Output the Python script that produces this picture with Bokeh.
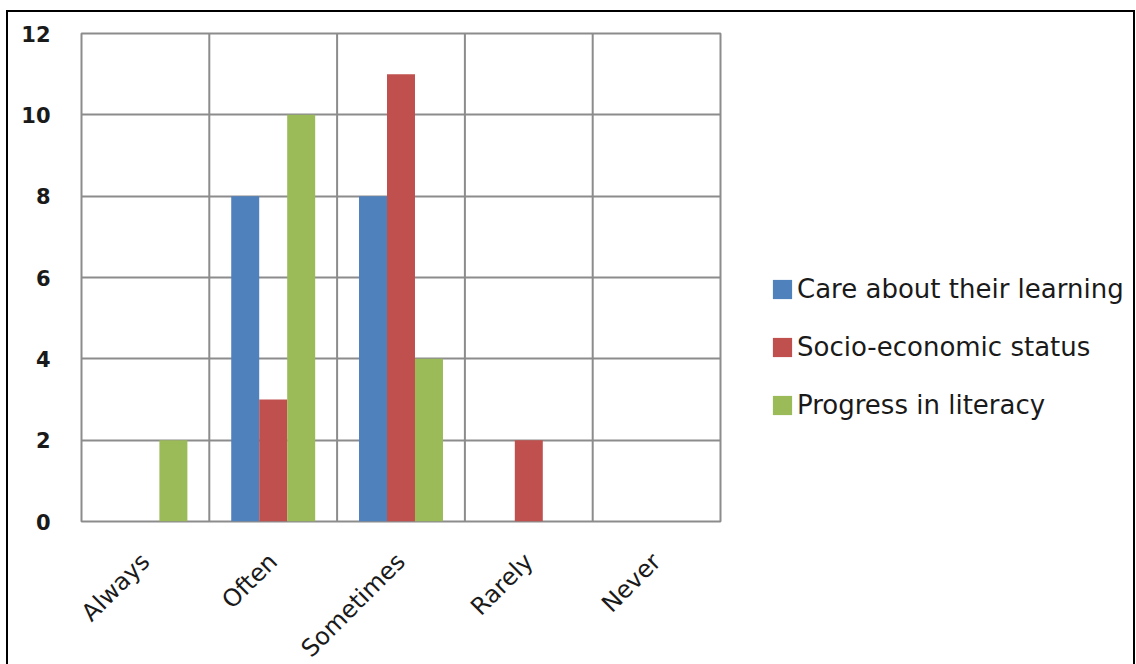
import math
from bokeh.plotting import figure
from bokeh.layouts import row
from bokeh.models import (ColumnDataSource, FactorRange, Range1d, FixedTicker, Span,
                          Legend, LegendItem)
from bokeh.transform import dodge
from bokeh.embed import file_html
from bokeh.resources import INLINE

categories = ["Always", "Often", "Sometimes", "Rarely", "Never"]
care = [0, 8, 8, 0, 0]
socio = [0, 3, 11, 2, 0]
progress = [2, 10, 4, 0, 0]
series_names = ["Care about their learning", "Socio-economic status", "Progress in literacy"]
series_fields = ["care", "socio", "progress"]
y_ticks = [0, 2, 4, 6, 8, 10, 12]

colors = ["#4F81BD", "#C0504D", "#9BBB59"]
grid_col = "#8c8c8c"
text_col = "#1a1a1a"

src = ColumnDataSource(dict(cat=categories, care=care, socio=socio, progress=progress))

p = figure(frame_width=639, frame_height=488, x_range=FactorRange(*categories),
           y_range=Range1d(0, 12), output_backend="svg", toolbar_location=None,
           min_border_left=73, min_border_top=21, min_border_right=2, min_border_bottom=145)
p.background_fill_color = "white"
p.border_fill_color = "white"
p.outline_line_color = grid_col
p.outline_line_width = 2

bw = 0.219
offsets = [-bw, 0, bw]
for f, c, off in zip(series_fields, colors, offsets):
    p.vbar(x=dodge("cat", off, range=p.x_range), top=f, width=bw, source=src,
           fill_color=c, line_color=None)

# grids
p.xgrid.visible = False
p.ygrid.ticker = FixedTicker(ticks=y_ticks)
p.ygrid.grid_line_color = grid_col
p.ygrid.grid_line_width = 2
for i in range(1, len(categories)):
    p.add_layout(Span(location=i, dimension="height", line_color=grid_col, line_width=2))

# axes
p.yaxis.ticker = FixedTicker(ticks=y_ticks)
for ax in (p.xaxis[0], p.yaxis[0]):
    ax.axis_line_color = None
    ax.major_tick_line_color = None
    ax.minor_tick_line_color = None
    ax.major_tick_out = 0
    ax.major_tick_in = 0
    ax.major_label_text_color = text_col

p.yaxis.major_label_text_font = "DejaVu Sans"
p.yaxis.major_label_text_font_style = "bold"
p.yaxis.major_label_text_font_size = "21px"
p.yaxis.major_label_standoff = 31

p.xaxis.major_label_orientation = math.pi / 4
p.xaxis.major_label_text_font = "DejaVu Sans"
p.xaxis.major_label_text_font_size = "24px"
p.xaxis.major_label_standoff = 36

# legend panel (separate figure to the right; its renderers are hidden, only the legend shows)
q = figure(width=411, height=654, x_range=FactorRange(*categories), y_range=Range1d(0, 12),
           x_axis_type=None, y_axis_type=None, output_backend="svg", toolbar_location=None,
           min_border=0)
q.outline_line_color = None
q.background_fill_color = "white"
q.border_fill_color = "white"
q.xgrid.visible = False
q.ygrid.visible = False
legend_renderers = [q.vbar(x="cat", top=f, width=bw, source=src,
                           fill_color=c, line_color=None, visible=False)
                    for f, c in zip(series_fields, colors)]

legend = Legend(items=[LegendItem(label=n, renderers=[r])
                       for n, r in zip(series_names, legend_renderers)],
                location=(48, 92))
legend.padding = 0
legend.margin = 0
legend.border_line_color = None
legend.background_fill_alpha = 0
legend.inactive_fill_alpha = 0
legend.glyph_width = 24
legend.glyph_height = 24
legend.label_height = 30
legend.spacing = 28
legend.label_standoff = 3
legend.label_text_font = "DejaVu Sans"
legend.label_text_font_size = "26px"
legend.label_text_color = text_col
q.add_layout(legend, "center")

layout = row(p, q, spacing=0)
layout.margin = (10, 0, 0, 6)
layout.styles = {"border-left": "2px solid #000", "border-top": "2px solid #000",
                 "border-right": "2px solid #000"}

open("out.html", "w").write(file_html(layout, INLINE))
